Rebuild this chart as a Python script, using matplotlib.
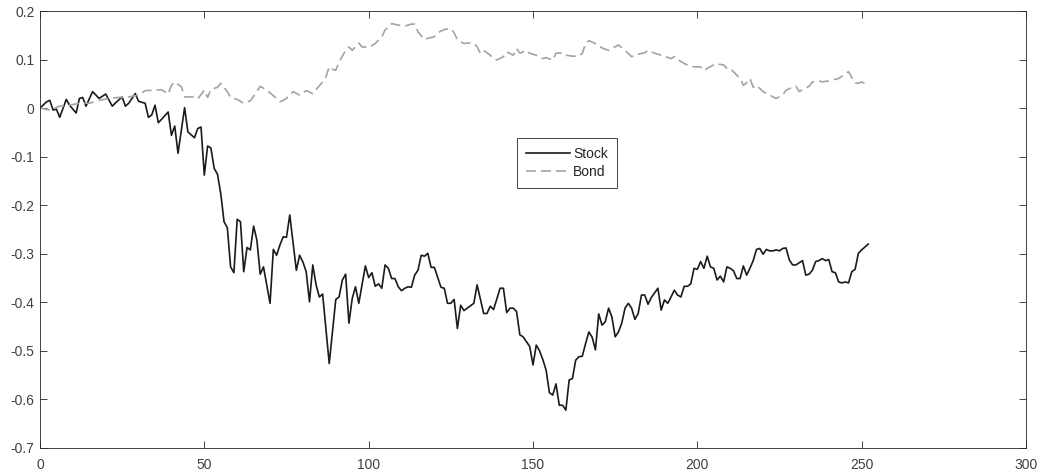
import matplotlib.pyplot as plt
import numpy as np

plt.rcParams['font.family'] = ['Liberation Sans', 'DejaVu Sans']
plt.rcParams['axes.unicode_minus'] = False

# ── 資料 ────────────────────────────────────────
stock_day = [0, 2, 3, 4, 5, 6, 8, 9, 11, 12, 13, 14, 16, 18, 20, 22, 23, 25, 26, 27,
             29, 30, 32, 33, 34, 35, 36, 37, 39, 40, 41, 42, 44, 45, 47, 48, 49, 50, 51, 52,
             53, 54, 55, 56, 57, 58, 59, 60, 61, 62, 63, 64, 65, 66, 67, 68, 70, 71, 72, 73,
             74, 75, 76, 78, 79, 80, 81, 82, 83, 84, 85, 86, 88, 90, 91, 92, 93, 94, 95, 96,
             97, 99, 100, 101, 102, 103, 104, 105, 106, 107, 108, 109, 110, 111, 112, 113, 114, 115, 116, 117,
             118, 119, 120, 122, 123, 124, 125, 126, 127, 128, 129, 130, 132, 133, 134, 135, 136, 137, 138, 140,
             141, 142, 143, 144, 145, 146, 147, 149, 150, 151, 152, 153, 154, 155, 156, 157, 158, 159, 160, 161,
             162, 163, 164, 165, 166, 167, 168, 169, 170, 171, 172, 173, 174, 175, 176, 177, 178, 179, 180, 181,
             182, 183, 184, 185, 186, 188, 189, 190, 191, 192, 193, 194, 195, 196, 197, 198, 199, 200, 201, 202,
             203, 204, 205, 206, 207, 208, 209, 210, 211, 212, 213, 214, 215, 216, 217, 218, 219, 220, 221, 222,
             223, 224, 225, 226, 227, 228, 229, 230, 232, 233, 234, 235, 236, 237, 238, 239, 240, 241, 242, 243,
             244, 245, 246, 247, 248, 249, 250, 252]
stock_val = [0.000, 0.013, 0.016, -0.004, -0.002, -0.019, 0.018, 0.006, -0.010, 0.020,
             0.022, 0.004, 0.034, 0.020, 0.029, 0.004, 0.011, 0.023, 0.004, 0.010,
             0.030, 0.014, 0.010, -0.019, -0.014, 0.006, -0.030, -0.023, -0.008, -0.056,
             -0.037, -0.093, 0.001, -0.049, -0.061, -0.042, -0.039, -0.138, -0.078, -0.082,
             -0.124, -0.136, -0.176, -0.234, -0.246, -0.327, -0.339, -0.229, -0.234, -0.337,
             -0.287, -0.292, -0.243, -0.272, -0.342, -0.327, -0.402, -0.291, -0.303, -0.282,
             -0.265, -0.266, -0.220, -0.334, -0.303, -0.317, -0.337, -0.399, -0.323, -0.364,
             -0.389, -0.383, -0.526, -0.394, -0.389, -0.354, -0.342, -0.443, -0.392, -0.368,
             -0.402, -0.325, -0.349, -0.339, -0.367, -0.362, -0.371, -0.323, -0.330, -0.351,
             -0.351, -0.368, -0.376, -0.371, -0.368, -0.369, -0.344, -0.334, -0.303, -0.305,
             -0.299, -0.328, -0.328, -0.369, -0.371, -0.402, -0.402, -0.394, -0.454, -0.406,
             -0.417, -0.412, -0.402, -0.364, -0.394, -0.423, -0.423, -0.408, -0.415, -0.371,
             -0.371, -0.421, -0.412, -0.412, -0.419, -0.467, -0.471, -0.491, -0.529, -0.488,
             -0.500, -0.518, -0.540, -0.586, -0.591, -0.568, -0.612, -0.612, -0.622, -0.560,
             -0.557, -0.519, -0.512, -0.511, -0.485, -0.461, -0.472, -0.498, -0.424, -0.447,
             -0.440, -0.412, -0.430, -0.471, -0.461, -0.443, -0.412, -0.402, -0.412, -0.435,
             -0.423, -0.385, -0.385, -0.404, -0.390, -0.371, -0.416, -0.395, -0.402, -0.389,
             -0.375, -0.385, -0.389, -0.367, -0.367, -0.362, -0.330, -0.332, -0.316, -0.330,
             -0.305, -0.327, -0.330, -0.354, -0.346, -0.358, -0.327, -0.330, -0.335, -0.351,
             -0.351, -0.325, -0.344, -0.330, -0.314, -0.291, -0.289, -0.301, -0.291, -0.294,
             -0.294, -0.292, -0.294, -0.289, -0.288, -0.313, -0.323, -0.323, -0.314, -0.344,
             -0.342, -0.334, -0.316, -0.314, -0.310, -0.314, -0.312, -0.337, -0.339, -0.358,
             -0.360, -0.358, -0.360, -0.337, -0.332, -0.299, -0.292, -0.280]

bond_day = [0, 3, 6, 9, 12, 15, 18, 21, 24, 27, 30, 32, 35, 37, 39, 40, 41, 43, 44, 47,
            48, 50, 51, 52, 54, 55, 57, 58, 60, 62, 64, 66, 67, 69, 72, 73, 74, 75, 77, 79,
            81, 83, 86, 87, 88, 89, 90, 91, 93, 94, 95, 97, 98, 100, 102, 104, 105, 107, 109, 111,
            113, 114, 115, 117, 118, 120, 121, 123, 125, 126, 127, 129, 130, 132, 133, 134, 135, 137, 138, 139,
            141, 142, 144, 145, 146, 148, 149, 151, 153, 154, 156, 157, 159, 160, 162, 164, 165, 166, 167, 169,
            171, 173, 174, 176, 178, 180, 182, 184, 185, 187, 188, 189, 190, 192, 193, 194, 196, 197, 199, 201,
            202, 203, 205, 206, 208, 209, 210, 211, 213, 214, 215, 216, 217, 218, 220, 222, 223, 224, 226, 227,
            229, 230, 231, 232, 234, 235, 237, 238, 240, 241, 243, 244, 245, 246, 247, 248, 249, 250, 252]
bond_val = [0.000, -0.004, 0.004, 0.006, 0.010, 0.010, 0.016, 0.020, 0.022, 0.023,
            0.027, 0.036, 0.037, 0.038, 0.029, 0.047, 0.054, 0.044, 0.023, 0.023,
            0.019, 0.037, 0.022, 0.038, 0.043, 0.051, 0.034, 0.022, 0.018, 0.010,
            0.015, 0.034, 0.045, 0.037, 0.020, 0.013, 0.016, 0.020, 0.034, 0.027,
            0.036, 0.030, 0.054, 0.064, 0.085, 0.080, 0.078, 0.095, 0.119, 0.126,
            0.119, 0.134, 0.126, 0.125, 0.133, 0.147, 0.161, 0.174, 0.171, 0.169,
            0.173, 0.173, 0.157, 0.141, 0.144, 0.147, 0.155, 0.162, 0.164, 0.155,
            0.141, 0.133, 0.134, 0.134, 0.126, 0.113, 0.119, 0.109, 0.102, 0.099,
            0.106, 0.116, 0.109, 0.123, 0.113, 0.119, 0.113, 0.109, 0.102, 0.104,
            0.099, 0.113, 0.114, 0.109, 0.107, 0.107, 0.113, 0.133, 0.139, 0.133,
            0.124, 0.119, 0.123, 0.130, 0.119, 0.106, 0.111, 0.114, 0.119, 0.113,
            0.111, 0.109, 0.107, 0.102, 0.106, 0.100, 0.092, 0.089, 0.085, 0.085,
            0.077, 0.082, 0.089, 0.091, 0.089, 0.082, 0.082, 0.075, 0.061, 0.047,
            0.052, 0.061, 0.043, 0.047, 0.034, 0.027, 0.023, 0.020, 0.027, 0.037,
            0.043, 0.045, 0.034, 0.038, 0.045, 0.054, 0.056, 0.054, 0.056, 0.058,
            0.061, 0.066, 0.071, 0.075, 0.063, 0.052, 0.051, 0.054, 0.047]

xticks = [0, 50, 100, 150, 200, 250, 300]
yticks = [-0.7, -0.6, -0.5, -0.4, -0.3, -0.2, -0.1, 0, 0.1, 0.2]
ytick_labels = ['-0.7', '-0.6', '-0.5', '-0.4', '-0.3', '-0.2', '-0.1', '0', '0.1', '0.2']

# ── 圖 ──────────────────────────────────────────
fig = plt.figure(figsize=(10.41, 4.73), dpi=100)
ax = fig.add_axes([0.0384, 0.0529, 0.9472, 0.9238])

ax.plot(stock_day, stock_val, color='#1a1a1a', linewidth=1.2, label='Stock')
ax.plot(bond_day, bond_val, color='#a3a3a3', linewidth=1.2, linestyle=(0, (6, 3)), label='Bond')

ax.set_xlim(0, 300)
ax.set_ylim(-0.7, 0.2)
ax.set_xticks(xticks)
ax.set_yticks(yticks)
ax.set_yticklabels(ytick_labels)
ax.tick_params(direction='in', length=5, width=0.6, top=True, right=True,
               labelsize=10, color='#262626', labelcolor='#404040')
ax.tick_params(axis='x', pad=7)
ax.tick_params(axis='y', pad=4)
for s in ax.spines.values():
    s.set_color('#262626')
    s.set_linewidth(0.6)

leg = ax.legend(loc='center', bbox_to_anchor=(0.5345, 0.652), fontsize=10,
                fancybox=False, framealpha=1, edgecolor='#262626',
                handlelength=3.2, handletextpad=0.2, borderpad=0.65,
                labelspacing=0.3)
leg.get_frame().set_linewidth(0.6)
for t in leg.get_texts():
    t.set_color('#262626')

fig.savefig('out.png', dpi=100)
